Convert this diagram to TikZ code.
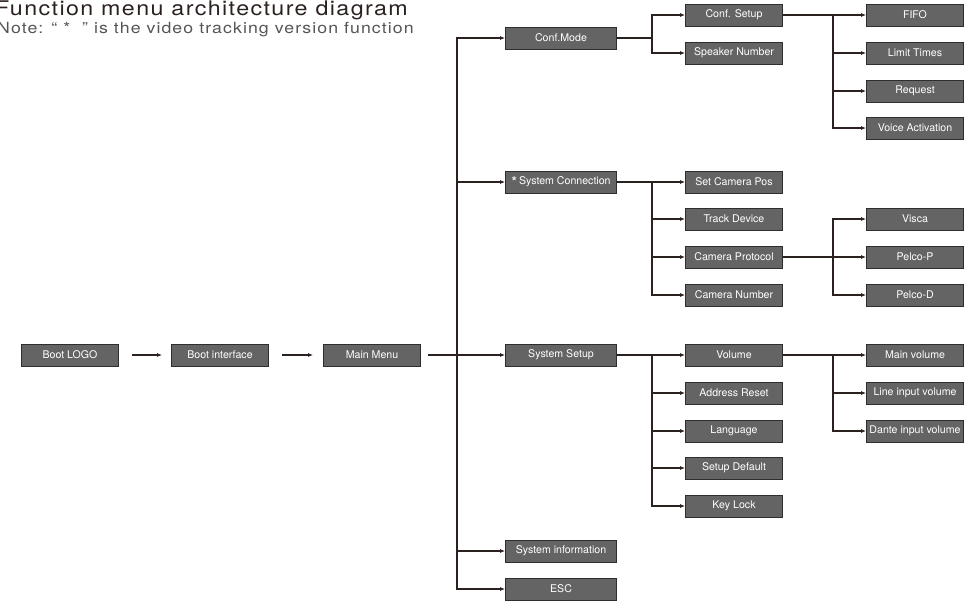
\documentclass[tikz,border=0pt]{standalone}
\usepackage{fontspec}
\setmainfont{TeX Gyre Heros}
\newfontfamily\headfont[FakeStretch = 1.15, LetterSpace = 7]{TeX Gyre Heros}
\usetikzlibrary{arrows.meta}
\definecolor{boxgray}{HTML}{646464}
\definecolor{boxedge}{HTML}{2E2E2E}
\definecolor{linecol}{HTML}{2B2220}
\definecolor{notegray}{HTML}{555555}
\tikzset{
    > = {Latex[length=5pt,width=4pt]},
    menu/.style = {draw = boxedge, line width = 0.8pt, fill = boxgray, text = white,
        minimum width = 97pt, minimum height = 22pt, inner sep = 0pt,
        font = \fontsize{10.6}{12}\selectfont},
    wide/.style = {menu, minimum width = 111pt},
    link/.style = {draw = linecol, line width = 1.1pt}
}

\begin{document}
\begin{tikzpicture}[x = 1pt, y = -1pt]
    \useasboundingbox (0, 0) rectangle (974, 600);

    % title
    \node[anchor = base west, inner sep = 0pt, text = linecol, font = \headfont\fontsize{20.2}{22}\selectfont] (title) at (-5, 15) {Function menu architecture diagram};
    \node[anchor = base west, inner sep = 0pt, text = notegray, font = \headfont\fontsize{15.4}{17}\selectfont] (note) at (-3, 33) {Note: “ *\ \ ” is the video tracking version function};

    % first level
    \node[menu] (logo) at (70, 355) {Boot LOGO};
    \node[menu] (boot) at (220, 355) {Boot interface};
    \node[menu] (main) at (372, 355) {Main Menu};

    % second level
    \node[wide] (conf) at (561, 38) {Conf.Mode};
    \node[wide] (conn) at (561, 182) {\raisebox{-0.55ex}{\fontsize{15}{15}\selectfont *}\,System Connection};
    \node[wide] (setup) at (561, 355) {System Setup};
    \node[wide] (info) at (561, 551) {System information};
    \node[wide] (esc) at (561, 589) {ESC};

    % third level
    \node[menu] (confsetup) at (734, 15) {Conf. Setup};
    \node[menu] (speaker) at (734, 53) {Speaker Number};
    \node[menu] (campos) at (734, 182) {Set Camera Pos};
    \node[menu] (track) at (734, 219) {Track Device};
    \node[menu] (protocol) at (734, 257) {Camera Protocol};
    \node[menu] (camnum) at (734, 295) {Camera Number};
    \node[menu] (volume) at (734, 355) {Volume};
    \node[menu] (address) at (734, 393) {Address Reset};
    \node[menu] (language) at (734, 431) {Language};
    \node[menu] (default) at (734, 468) {Setup Default};
    \node[menu] (keylock) at (734, 506) {Key Lock};

    % fourth level
    \node[menu] (fifo) at (915, 15) {FIFO};
    \node[menu] (limit) at (915, 53) {Limit Times};
    \node[menu] (request) at (915, 91) {Request};
    \node[menu] (voice) at (915, 128) {Voice Activation};
    \node[menu] (visca) at (915, 219) {Visca};
    \node[menu] (pelcop) at (915, 257) {Pelco-P};
    \node[menu] (pelcod) at (915, 295) {Pelco-D};
    \node[menu] (mainvol) at (915, 355) {Main volume};
    \node[menu] (linevol) at (915, 393) {Line input volume};
    \node[menu] (dantevol) at (915, 431) {Dante input volume};

    % branch points
    \coordinate (mainbus) at (457, 355);
    \coordinate (confbus) at (652, 38);
    \coordinate (connbus) at (652, 182);
    \coordinate (setupbus) at (652, 355);
    \coordinate (confsetupbus) at (833, 15);
    \coordinate (protocolbus) at (833, 257);
    \coordinate (volumebus) at (833, 355);

    % connectors
    \draw[link, ->] ([xshift = 13pt]logo.east) -- ([xshift = -9pt]boot.west);
    \draw[link, ->] ([xshift = 13pt]boot.east) -- ([xshift = -10pt]main.west);

    \draw[link, ->] ([xshift = 7pt]main.east) -- (setup.west);
    \draw[link, ->] (mainbus) |- (conf.west);
    \draw[link, ->] (mainbus) |- (conn.west);
    \draw[link, ->] (mainbus) |- (info.west);
    \draw[link, ->] (mainbus) |- (esc.west);

    \draw[link] (conf.east) -- (confbus);
    \draw[link, ->] (confbus) |- (confsetup.west);
    \draw[link, ->] (confbus) |- (speaker.west);

    \draw[link, ->] (conn.east) -- (campos.west);
    \draw[link, ->] (connbus) |- (track.west);
    \draw[link, ->] (connbus) |- (protocol.west);
    \draw[link, ->] (connbus) |- (camnum.west);

    \draw[link, ->] (setup.east) -- (volume.west);
    \draw[link, ->] (setupbus) |- (address.west);
    \draw[link, ->] (setupbus) |- (language.west);
    \draw[link, ->] (setupbus) |- (default.west);
    \draw[link, ->] (setupbus) |- (keylock.west);

    \draw[link, ->] (confsetup.east) -- (fifo.west);
    \draw[link, ->] (confsetupbus) |- (limit.west);
    \draw[link, ->] (confsetupbus) |- (request.west);
    \draw[link, ->] (confsetupbus) |- (voice.west);

    \draw[link, ->] (protocol.east) -- (pelcop.west);
    \draw[link, ->] (protocolbus) |- (visca.west);
    \draw[link, ->] (protocolbus) |- (pelcod.west);

    \draw[link, ->] (volume.east) -- (mainvol.west);
    \draw[link, ->] (volumebus) |- (linevol.west);
    \draw[link, ->] (volumebus) |- (dantevol.west);
\end{tikzpicture}
\end{document}
